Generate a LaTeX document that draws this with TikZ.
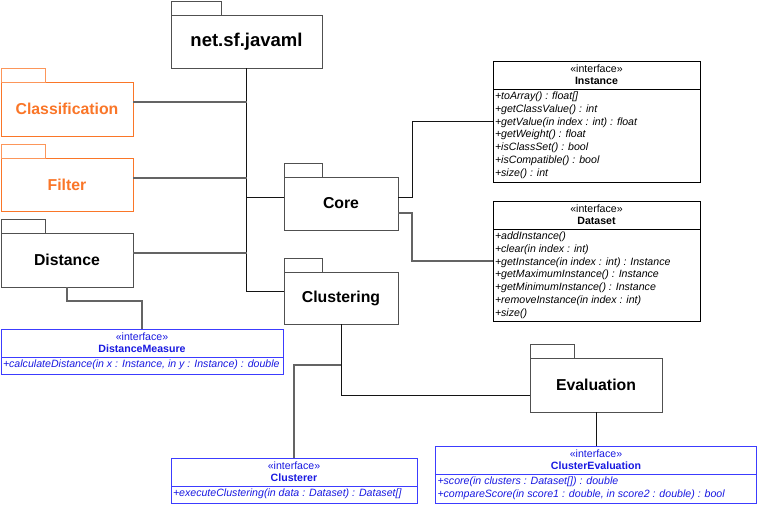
\documentclass[tikz,border=0pt]{standalone}
\usepackage{fontspec}
\setmainfont{Liberation Sans}
\definecolor{pkgline}{RGB}{80,80,80}
\definecolor{orng}{RGB}{250,118,40}
\definecolor{orngtab}{RGB}{252,150,90}
\definecolor{bline}{RGB}{60,60,255}
\definecolor{btext}{RGB}{25,25,225}
\definecolor{cdark}{RGB}{20,20,20}
\definecolor{cgray}{RGB}{100,100,100}
\begin{document}
\begin{tikzpicture}[x=1pt,y=-1pt,
 every node/.style={outer sep=0pt},
 pkgbody/.style={draw=pkgline, fill=white, line width=1pt, rectangle, inner sep=0pt, anchor=north west, font=\fontsize{15.8}{18}\selectfont\bfseries},
 pkgtab/.style={draw=pkgline, fill=white, line width=1pt, rectangle, inner sep=0pt, anchor=south west, minimum height=14pt},
 orangepkg/.style={draw=orng, text=orng},
 orangetab/.style={draw=orngtab},
 cbox/.style={draw=black, fill=white, line width=1pt, rectangle, inner sep=0pt, anchor=north west},
 bluebox/.style={draw=bline},
 stereo/.style={inner sep=0pt, font=\fontsize{10.6}{12}\selectfont},
 cname/.style={inner sep=0pt, font=\fontsize{10.6}{12}\selectfont\bfseries},
 meth/.style={inner sep=0pt, anchor=base west, font=\fontsize{10.6}{12}\selectfont\itshape},
 sepline/.style={line width=1pt},
 dk/.style={draw=cdark, line width=1pt},
 gr/.style={draw=cgray, line width=1.1pt}
]
\useasboundingbox (0,0) rectangle (758,504);

% ---------- packages ----------
\node[pkgbody, minimum width=151pt, minimum height=53pt, font=\fontsize{18.5}{21}\selectfont\bfseries] (jav) at (171,15) {net.sf.javaml};
\node[pkgtab, minimum width=50pt] (javtab) at (jav.north west) {};

\node[pkgbody, orangepkg, minimum width=132pt, minimum height=54pt] (cls) at (1,82) {Classification};
\node[pkgtab, orangetab, minimum width=44pt] (clstab) at (cls.north west) {};

\node[pkgbody, orangepkg, minimum width=132pt, minimum height=53pt] (fil) at (1,158) {Filter};
\node[pkgtab, orangetab, minimum width=44pt] (filtab) at (fil.north west) {};

\node[pkgbody, minimum width=132pt, minimum height=54pt] (dis) at (1,233) {Distance};
\node[pkgtab, minimum width=44pt] (distab) at (dis.north west) {};

\node[pkgbody, minimum width=114pt, minimum height=53pt] (cor) at (284,177) {Core};
\node[pkgtab, minimum width=38pt] (cortab) at (cor.north west) {};

\node[pkgbody, minimum width=114pt, minimum height=52pt] (clu) at (284,272) {Clustering};
\node[pkgtab, minimum width=38pt] (clutab) at (clu.north west) {};

\node[pkgbody, minimum width=132pt, minimum height=54pt] (eva) at (530,358) {Evaluation};
\node[pkgtab, minimum width=44pt] (evatab) at (eva.north west) {};

% ---------- class boxes ----------
% Instance
\node[cbox, minimum width=207pt, minimum height=121pt] (ins) at (493,61) {};
\node[stereo] (insS) at ([yshift=-8pt]ins.north) {«interface»};
\node[cname] (insN) at ([yshift=-19.5pt]ins.north) {Instance};
\draw[sepline] ([yshift=-28pt]ins.north west) -- ([yshift=-28pt]ins.north east);
\foreach \t [count=\i from 0] in {{+toArray() : float[]},{+getClassValue() : int},{+getValue(in index : int) : float},{+getWeight() : float},{+isClassSet() : bool},{+isCompatible() : bool},{+size() : int}}
  \node[meth] (insM\i) at ([xshift=2pt,yshift={-38.8pt-12.7pt*\i}]ins.north west) {\t};

% Dataset
\node[cbox, minimum width=207pt, minimum height=120pt] (ds) at (493,201) {};
\node[stereo] (dsS) at ([yshift=-8pt]ds.north) {«interface»};
\node[cname] (dsN) at ([yshift=-19.5pt]ds.north) {Dataset};
\draw[sepline] ([yshift=-28pt]ds.north west) -- ([yshift=-28pt]ds.north east);
\foreach \t [count=\i from 0] in {{+addInstance()},{+clear(in index : int)},{+getInstance(in index : int) : Instance},{+getMaximumInstance() : Instance},{+getMinimumInstance() : Instance},{+removeInstance(in index : int)},{+size()}}
  \node[meth] (dsM\i) at ([xshift=2pt,yshift={-38.8pt-12.7pt*\i}]ds.north west) {\t};

% DistanceMeasure
\node[cbox, bluebox, minimum width=282pt, minimum height=45pt] (dm) at (1,329) {};
\node[stereo, text=btext] (dmS) at ([yshift=-7.5pt]dm.north) {«interface»};
\node[cname, text=btext] (dmN) at ([yshift=-19.5pt]dm.north) {DistanceMeasure};
\draw[sepline, bline] ([yshift=-28pt]dm.north west) -- ([yshift=-28pt]dm.north east);
\node[meth, text=btext] (dmM0) at ([xshift=2pt,yshift=-38.8pt]dm.north west) {+calculateDistance(in x : Instance, in y : Instance) : double};

% Clusterer
\node[cbox, bluebox, minimum width=246pt, minimum height=45pt] (cer) at (171,458) {};
\node[stereo, text=btext] (cerS) at ([yshift=-7.5pt]cer.north) {«interface»};
\node[cname, text=btext] (cerN) at ([yshift=-19.5pt]cer.north) {Clusterer};
\draw[sepline, bline] ([yshift=-28pt]cer.north west) -- ([yshift=-28pt]cer.north east);
\node[meth, text=btext] (cerM0) at ([xshift=2pt,yshift=-38.8pt]cer.north west) {+executeClustering(in data : Dataset) : Dataset[]};

% ClusterEvaluation
\node[cbox, bluebox, minimum width=321pt, minimum height=57pt] (ce) at (435.5,446) {};
\node[stereo, text=btext] (ceS) at ([yshift=-7.5pt]ce.north) {«interface»};
\node[cname, text=btext] (ceN) at ([yshift=-19.5pt]ce.north) {ClusterEvaluation};
\draw[sepline, bline] ([yshift=-28pt]ce.north west) -- ([yshift=-28pt]ce.north east);
\foreach \t [count=\i from 0] in {{+score(in clusters : Dataset[]) : double},{+compareScore(in score1 : double, in score2 : double) : bool}}
  \node[meth, text=btext] (ceM\i) at ([xshift=2pt,yshift={-38.8pt-12.7pt*\i}]ce.north west) {\t};

% ---------- connectors ----------
\coordinate (tEnd) at ([yshift=7pt]clu.west);
\draw[dk] (jav.south) |- (tEnd);
\coordinate (pCls) at ([yshift=7pt]cls.east);
\draw[gr] (pCls) -- (pCls -| jav.south);
\coordinate (pFil) at ([yshift=6.5pt]fil.east);
\draw[gr] (pFil) -- (pFil -| jav.south);
\coordinate (pDis) at ([yshift=7pt]dis.east);
\draw[gr] (pDis) -- (pDis -| jav.south);
\coordinate (pCor) at ([yshift=6.5pt]cor.west);
\draw[dk] (pCor) -- (pCor -| jav.south);

\coordinate (pCorA) at ([yshift=6.5pt]cor.east);
\draw[dk] (pCorA) -- ++(14,0) |- (ins.west);
\coordinate (pCorB) at ([yshift=-9.5pt]cor.east);
\draw[gr] (pCorB) -- ++(14,0) |- (ds.west);

\draw[gr] (dis.south) -- ++(0,14) -| (dm.north);

\coordinate (pEva) at ([yshift=-10pt]eva.west);
\draw[dk] (clu.south) |- (pEva);
\coordinate (br) at (clu.south |- 0,365);
\draw[gr] (br) -| (cer.north);

\draw[dk] (eva.south) -- (ce.north);
\end{tikzpicture}
\end{document}
